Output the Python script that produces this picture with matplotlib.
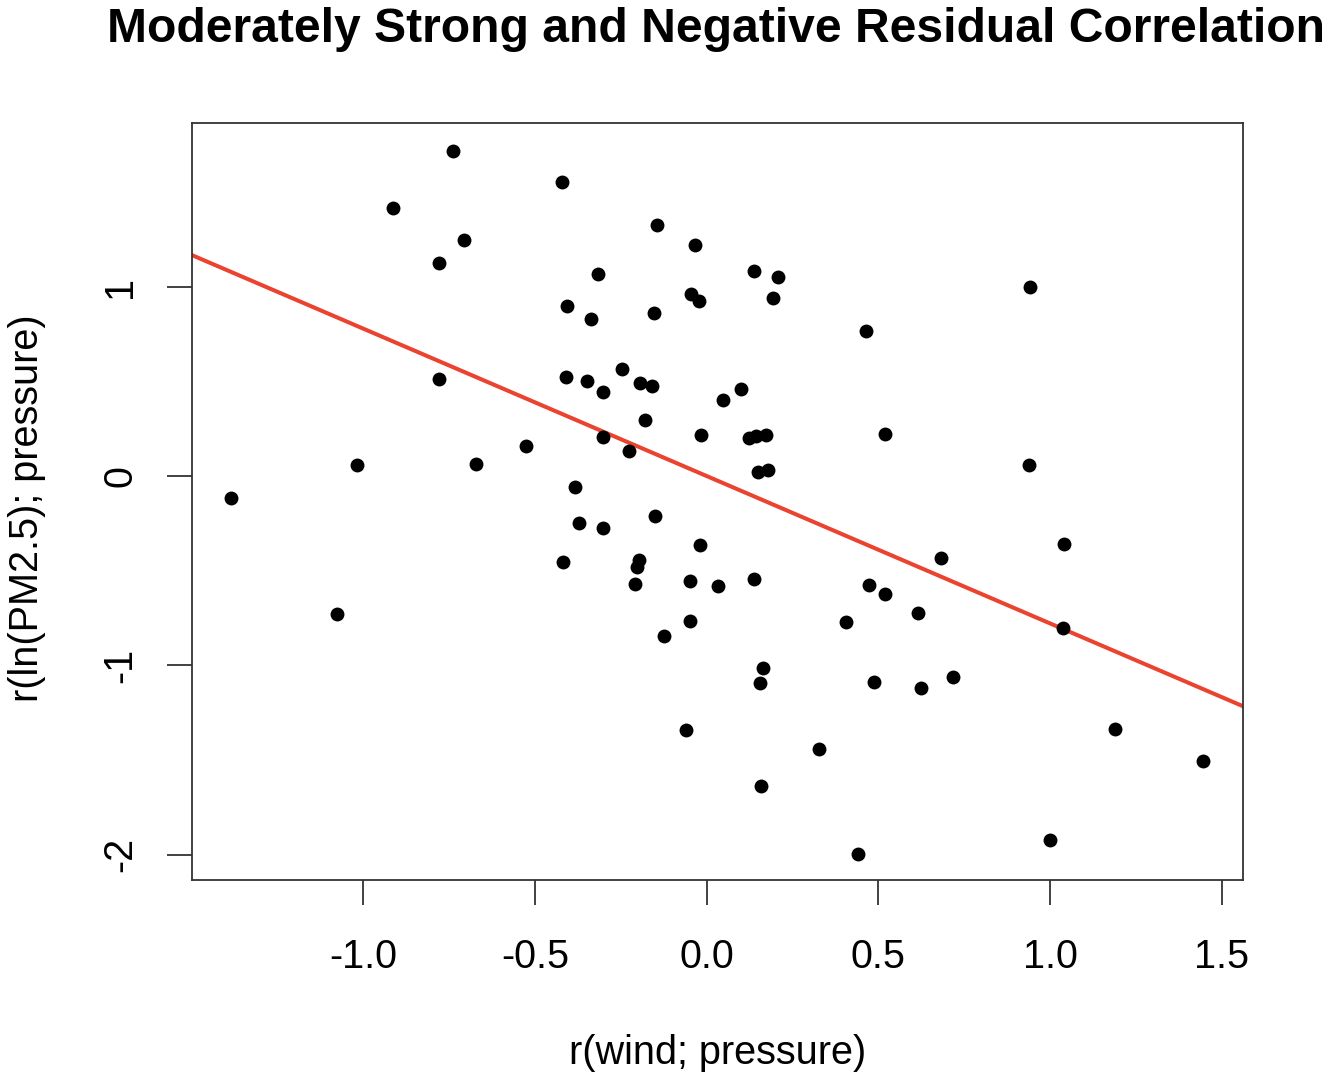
import matplotlib
matplotlib.use("Agg")
import matplotlib.pyplot as plt
import numpy as np

title = "Moderately Strong and Negative Residual Correlation"
xlabel = "r(wind; pressure)"
ylabel = "r(ln(PM2.5); pressure)"

x_vals = [-1.384, -1.076, -1.017, -0.912, -0.779, -0.779, -0.738, -0.706, -0.671, -0.525,
          -0.420, -0.406, -0.409, -0.418, -0.383, -0.371, -0.348, -0.336, -0.316, -0.301,
          -0.301, -0.301, -0.246, -0.226, -0.194, -0.196, -0.202, -0.208, -0.179, -0.159,
          -0.153, -0.144, -0.150, -0.124, -0.060, -0.048, -0.048, -0.045, -0.033, -0.022,
          -0.019, -0.016, 0.033, 0.048, 0.100, 0.124, 0.138, 0.138, 0.144, 0.150,
          0.156, 0.159, 0.164, 0.173, 0.179, 0.194, 0.208, 0.327, 0.406, 0.441,
          0.465, 0.471, 0.488, 0.520, 0.520, 0.616, 0.624, 0.683, 0.718, 0.939,
          0.942, 1.000, 1.038, 1.040, 1.189, 1.445]
y_vals = [-0.116, -0.729, 0.058, 1.416, 1.125, 0.512, 1.717, 1.247, 0.063, 0.158,
          1.553, 0.898, 0.523, -0.454, -0.058, -0.248, 0.502, 0.829, 1.067, 0.444,
          0.206, -0.275, 0.565, 0.132, 0.491, -0.444, -0.481, -0.571, 0.296, 0.475,
          0.861, 1.326, -0.211, -0.845, -1.342, -0.555, -0.766, 0.961, 1.220, 0.924,
          -0.365, 0.217, -0.581, 0.401, 0.460, 0.201, 1.083, -0.544, 0.211, 0.021,
          -1.094, -1.638, -1.014, 0.217, 0.032, 0.940, 1.051, -1.442, -0.771, -1.997,
          0.766, -0.576, -1.088, 0.222, -0.623, -0.724, -1.120, -0.433, -1.062, 0.058,
          0.998, -1.923, -0.803, -0.359, -1.337, -1.506]

fit_intercept = 0.0
fit_slope = -0.779

xticks = [-1.0, -0.5, 0.0, 0.5, 1.0, 1.5]
yticks = [-2, -1, 0, 1]

W, H = 1330, 1084
fig = plt.figure(figsize=(W / 100, H / 100), dpi=100)
ax = fig.add_axes([192 / W, 1 - 880 / H, (1243 - 192) / W, (880 - 123) / H])

plt.rcParams['font.family'] = ['Liberation Sans', 'DejaVu Sans']
FS = 28.5

ax.plot(x_vals, y_vals, 'o', color='black', markersize=10, markeredgewidth=0, zorder=3)
xl = (-1.498, 1.561)
ax.plot(xl, [fit_intercept + fit_slope * v for v in xl], color='#EA4330', lw=2.9, zorder=2)
ax.set_xlim(*xl)
ax.set_ylim(-2.134, 1.865)

ax.set_xticks(xticks)
ax.set_xticklabels([f"{t:.1f}" for t in xticks], fontsize=FS, family=['Liberation Sans'])
ax.set_yticks(yticks)
ax.set_yticklabels([str(t) for t in yticks], fontsize=FS, rotation=90, va='center',
                   family=['Liberation Sans'])
ax.tick_params(axis='both', direction='out', length=18, width=1.3, color='#333333')
ax.tick_params(axis='x', pad=24)
ax.tick_params(axis='y', pad=20)
for s in ax.spines.values():
    s.set_linewidth(1.3)
    s.set_color('#333333')

fig.text(716 / W, 1 - 30 / H, title, ha='center', va='center',
         fontsize=34.6, fontweight='bold', family=['Liberation Sans'])
fig.text(718 / W, 1 - 1053 / H, xlabel, ha='center', va='center', fontsize=FS,
         family=['Liberation Sans'])
fig.text(27 / W, 1 - 508 / H, ylabel, ha='center', va='center', fontsize=FS,
         rotation=90, family=['Liberation Sans'])

fig.savefig("out.png", dpi=100)
